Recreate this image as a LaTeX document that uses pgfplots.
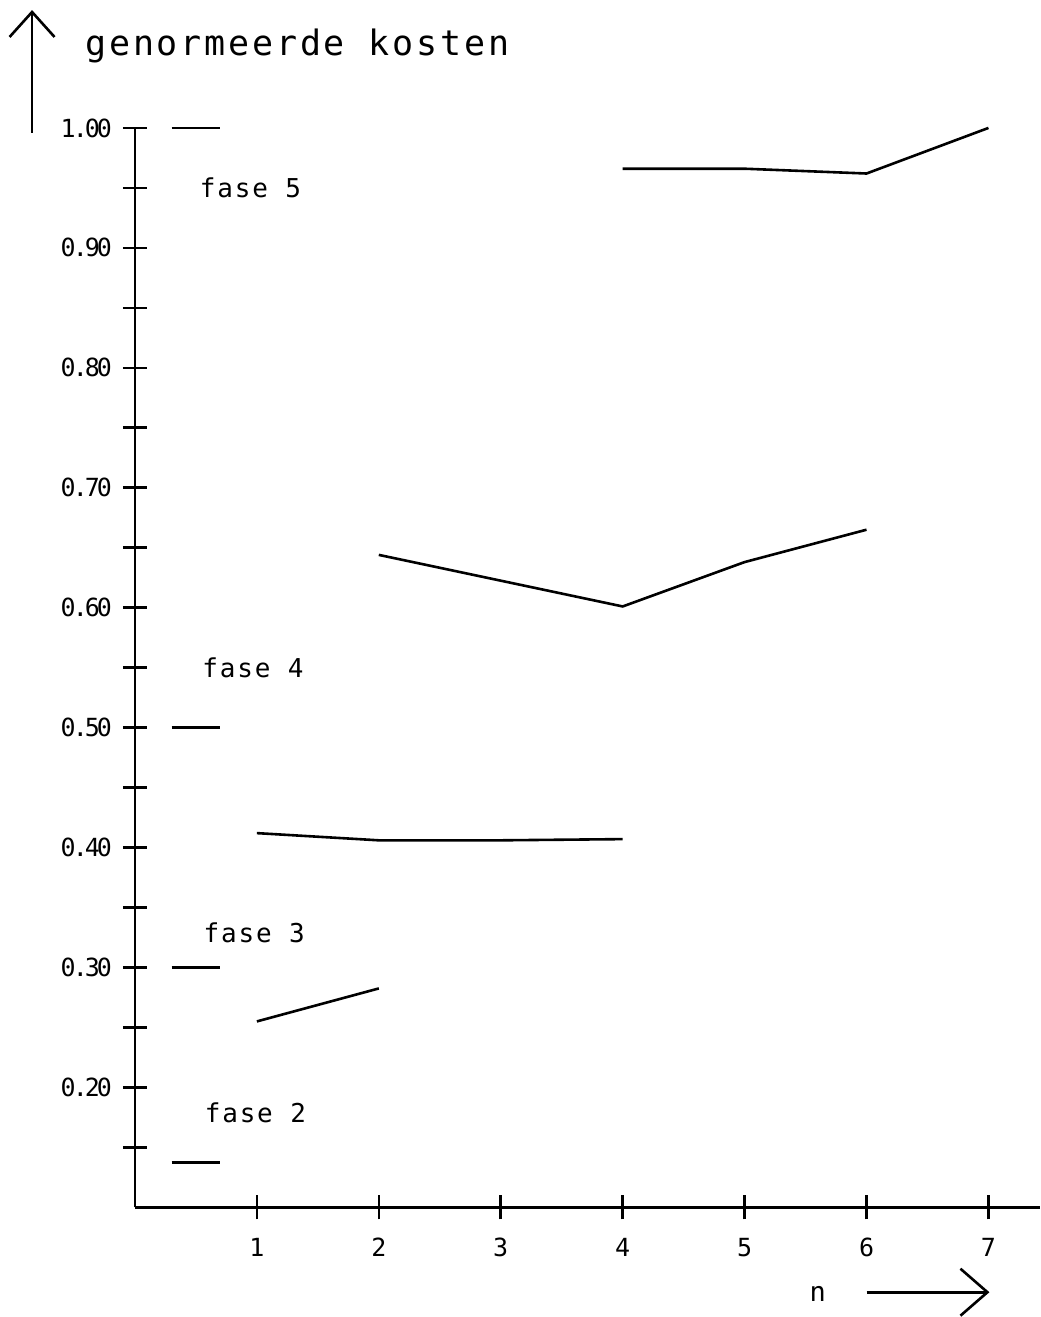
\documentclass[border=0pt]{standalone}
\usepackage{fontspec}
\usepackage{pgfplots}
\pgfplotsset{compat=1.18}
\usetikzlibrary{arrows.meta}
\newfontfamily\plotfont{DejaVu Sans Mono}
\newfontfamily\titlefont[LetterSpace=8]{DejaVu Sans Mono}
\newfontfamily\fasefont[LetterSpace=7]{DejaVu Sans Mono}
\newfontfamily\tickfont[LetterSpace=-12]{DejaVu Sans Mono}
\begin{document}
\begin{tikzpicture}
\begin{axis}[
  x=61pt, y=600pt,
  xmin=0, xmax=7.42, ymin=0.10, ymax=1.00,
  axis lines=left,
  axis line style={-, line width=1.3pt},
  every tick/.style={black, line width=1.3pt},
  tick align=center,
  major tick length=12pt, minor tick length=12pt,
  xtick={1,2,3,4,5,6,7},
  xticklabels={1,2,3,4,5,6,7},
  ytick={0.2,0.3,0.4,0.5,0.6,0.7,0.8,0.9,1.0},
  yticklabels={0.20,0.30,0.40,0.50,0.60,0.70,0.80,0.90,1.00},
  minor ytick={0.15,0.25,0.35,0.45,0.55,0.65,0.75,0.85,0.95},
  xticklabel style={font=\plotfont\fontsize{12.5}{14}\selectfont, yshift=-6pt},
  yticklabel style={font=\tickfont\fontsize{12.5}{14}\selectfont, xshift=-2pt},
  clip=false,
]
% bounding frame (invisible)
\path (axis cs:-1.107,0.00917) rectangle (axis cs:7.426,1.1067);

% fase 5
\addplot[black, line width=1.3pt] coordinates {(4,0.966) (5,0.966) (6,0.962) (7,1.000)};
% fase 4
\addplot[black, line width=1.3pt] coordinates {(2,0.644) (4,0.601) (5,0.638) (6,0.665)};
% fase 3
\addplot[black, line width=1.3pt] coordinates {(1,0.412) (2,0.406) (3,0.406) (4,0.407)};
% fase 2
\addplot[black, line width=1.3pt] coordinates {(1,0.255) (2,0.2825)};

% reference levels at n = 0
\addplot[black, line width=1.3pt] coordinates {(0.3,1.000) (0.7,1.000)};
\addplot[black, line width=1.3pt] coordinates {(0.3,0.500) (0.7,0.500)};
\addplot[black, line width=1.3pt] coordinates {(0.3,0.300) (0.7,0.300)};
\addplot[black, line width=1.3pt] coordinates {(0.3,0.1375) (0.7,0.1375)};

\node[anchor=base west, inner sep=0pt, font=\fasefont\fontsize{13}{15}\selectfont] at (axis cs:0.53,0.9417) {fase 5};
\node[anchor=base west, inner sep=0pt, font=\fasefont\fontsize{13}{15}\selectfont] at (axis cs:0.55,0.5417) {fase 4};
\node[anchor=base west, inner sep=0pt, font=\fasefont\fontsize{13}{15}\selectfont] at (axis cs:0.56,0.3208) {fase 3};
\node[anchor=base west, inner sep=0pt, font=\fasefont\fontsize{13}{15}\selectfont] at (axis cs:0.57,0.1708) {fase 2};

% y-axis title with arrow
\draw[line width=1.3pt, -{Straight Barb[length=12.5pt, width=22.5pt]}] (axis cs:-0.844,0.996) -- (axis cs:-0.844,1.0983);
\node[anchor=base west, inner sep=0pt, font=\titlefont\fontsize{17.5}{20}\selectfont] at (axis cs:-0.41,1.0608) {genormeerde kosten};

% x-axis title with arrow
\node[anchor=base, inner sep=0pt, font=\fasefont\fontsize{13.5}{15}\selectfont] at (axis cs:5.6,0.0217) {n};
\draw[line width=1.3pt, -{Straight Barb[length=13.5pt, width=23.5pt]}] (axis cs:6.0,0.0292) -- (axis cs:7.008,0.0292);
\end{axis}
\end{tikzpicture}
\end{document}
